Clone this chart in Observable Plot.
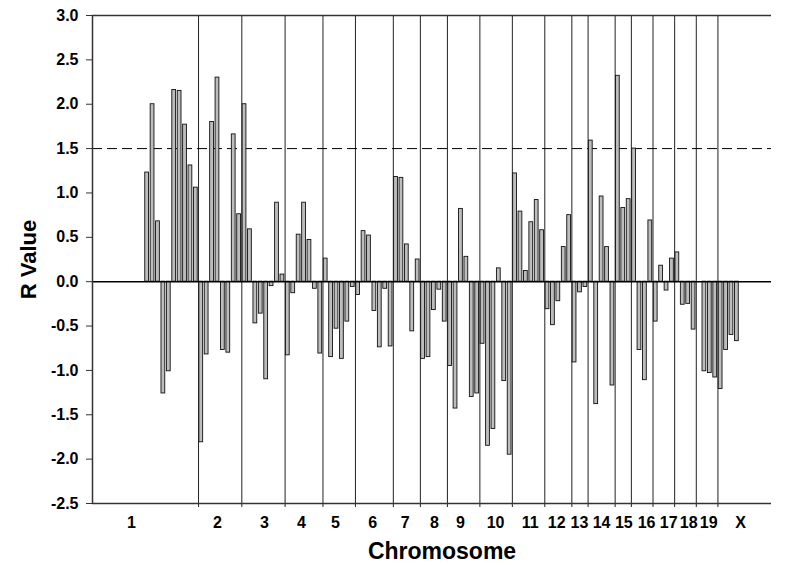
<!DOCTYPE html>
<html>
<head>
<meta charset="utf-8">
<script src="https://cdn.jsdelivr.net/npm/d3@7"></script>
<script src="https://cdn.jsdelivr.net/npm/@observablehq/plot@0.6"></script>
<style>
  html, body { margin: 0; padding: 0; background: #fff; }
  #chart svg { display: block; }
</style>
</head>
<body>
<div id="chart"></div>
<script>
// Chromosome names (mouse genome)
const chromosomes = ["1","2","3","4","5","6","7","8","9","10","11","12","13","14","15","16","17","18","19","X"];

// R values of each marker, one array per chromosome (null = empty marker slot)
const chr1  = [1.23, 2.00, 0.68, -1.26, -1.01, 2.16, 2.15, 1.77, 1.31, 1.06];
const chr2  = [-1.81, -0.82, 1.80, 2.30, -0.77, -0.80, 1.66, 0.76];
const chr3  = [2.00, 0.59, -0.47, -0.36, -1.10, -0.05, 0.89, 0.08];
const chr4  = [-0.83, -0.13, 0.53, 0.89, 0.47, -0.08, -0.81];
const chr5  = [0.26, -0.85, -0.53, -0.87, -0.45, -0.06];
const chr6  = [-0.15, 0.57, 0.52, -0.33, -0.74, -0.08, -0.73];
const chr7  = [1.18, 1.17, 0.42, -0.56, 0.25];
const chr8  = [-0.87, -0.85, -0.32, -0.09, -0.45];
const chr9  = [-0.95, -1.43, 0.82, 0.28, -1.30, -1.26];
const chr10 = [-0.70, -1.85, -1.66, 0.15, -1.12, -1.95];
const chr11 = [1.22, 0.79, 0.12, 0.67, 0.92, 0.58];
const chr12 = [-0.31, -0.49, -0.22, 0.39, 0.75];
const chr13 = [-0.91, -0.12, -0.06];
const chr14 = [1.59, -1.38, 0.96, 0.39, -1.17];
const chr15 = [2.32, 0.83, 0.93];
const chr16 = [1.50, -0.77, -1.11, 0.69];
const chr17 = [-0.45, 0.18, -0.10, 0.26];
const chr18 = [0.33, -0.26, -0.25, -0.54];
const chr19 = [null, -1.01, -1.03, -1.08];
const chrX  = [-1.21, -0.77, -0.60, -0.67];
const rValues = [chr1, chr2, chr3, chr4, chr5, chr6, chr7, chr8, chr9, chr10,
                 chr11, chr12, chr13, chr14, chr15, chr16, chr17, chr18, chr19, chrX];

// Chromosome label positions along the marker axis
const labelPositions = [-2.9, 13.0, 21.7, 28.5, 34.8, 41.7, 47.7, 53.1, 57.9, 64.4,
                        70.8, 75.7, 79.9, 84.0, 88.1, 92.3, 96.4, 100.1, 103.8, 109.7];

const threshold = 1.5;
const yTicks = [-2.5, -2.0, -1.5, -1.0, -0.5, 0.0, 0.5, 1.0, 1.5, 2.0, 2.5, 3.0];

// Build table of bars and chromosome boundaries (in marker-slot units)
const bars = [];
const boundaries = [];
let slot = 0;
rValues.forEach((vals, ci) => {
  vals.forEach(v => {
    if (v !== null) bars.push({chrom: chromosomes[ci], slot, value: v});
    slot++;
  });
  if (ci < rValues.length - 1) boundaries.push(slot - 0.5);
});
const labels = chromosomes.map((c, i) => ({name: c, pos: labelPositions[i]}));

const xDomain = [-10.1, 115.4];
const yDomain = [-2.5, 3.0];
const FONT = "Liberation Sans, Arial, Helvetica, sans-serif";

const chart = Plot.plot({
  width: 800,
  height: 565,
  marginLeft: 92,
  marginRight: 29,
  marginTop: 15,
  marginBottom: 62,
  style: {fontFamily: FONT, background: "#fff", color: "#000", overflow: "visible"},
  x: {domain: xDomain, axis: null},
  y: {domain: yDomain, axis: null},
  marks: [
    Plot.ruleX(boundaries, {stroke: "#222", strokeWidth: 1}),
    Plot.axisX({ticks: boundaries, tickSize: 4, tickFormat: () => "", label: null, stroke: "#222"}),
    Plot.ruleY([threshold], {stroke: "#000", strokeWidth: 1, strokeDasharray: "10,5"}),
    Plot.rect(bars, {
      x1: d => d.slot - 0.35,
      x2: d => d.slot + 0.35,
      y1: 0,
      y2: "value",
      fill: "#bdbdbd",
      stroke: "#111",
      strokeWidth: 0.9
    }),
    Plot.ruleY([0], {stroke: "#000", strokeWidth: 1.5}),
    Plot.ruleY([yDomain[1]], {stroke: "#333", strokeWidth: 1.5}),
    Plot.ruleY([yDomain[0]], {stroke: "#333", strokeWidth: 1.5}),
    Plot.ruleX([xDomain[0]], {stroke: "#333", strokeWidth: 1.5}),
    Plot.axisY({
      ticks: yTicks,
      tickSize: 6,
      tickPadding: 8,
      tickFormat: d => d.toFixed(1),
      fontSize: 16,
      fontWeight: "bold",
      label: null,
      stroke: "#333"
    }),
    Plot.text(labels, {
      x: "pos",
      y: yDomain[0],
      dy: 19,
      text: "name",
      fontSize: 16,
      fontWeight: "bold",
      fill: "#000"
    }),
    Plot.text(["Chromosome"], {
      frameAnchor: "bottom",
      textAnchor: "middle",
      lineAnchor: "middle",
      dx: 10,
      dy: 48,
      text: d => d,
      fontSize: 23,
      fontWeight: "bold",
      fill: "#000"
    }),
    Plot.text(["R Value"], {
      frameAnchor: "left",
      textAnchor: "middle",
      lineAnchor: "middle",
      dx: -64,
      rotate: -90,
      text: d => d,
      fontSize: 22,
      fontWeight: "bold",
      fill: "#000"
    })
  ]
});

document.getElementById("chart").appendChild(chart);
</script>
</body>
</html>
